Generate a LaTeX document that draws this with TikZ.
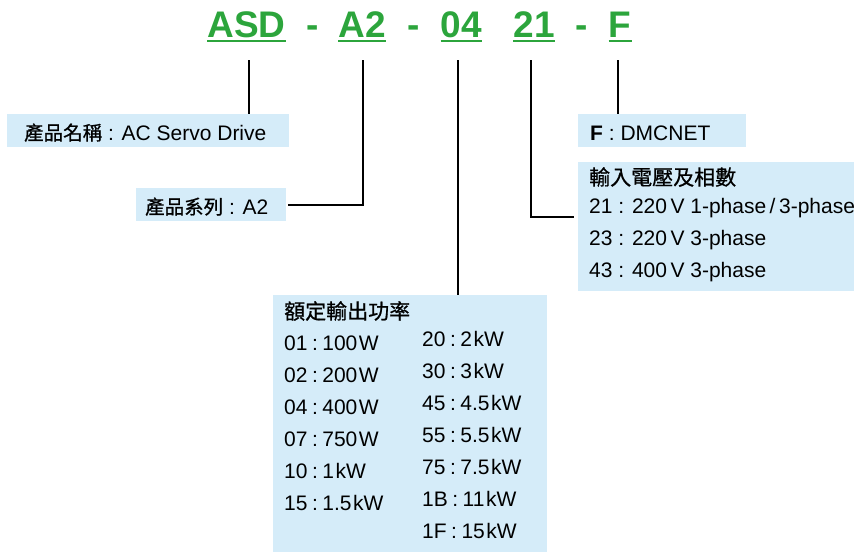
\documentclass[tikz,border=0pt]{standalone}
\usepackage{fontspec}
\setmainfont{Liberation Sans}
\newfontfamily\cjk[FakeBold=0.8]{Noto Sans CJK TC}
\newcommand\zh[1]{{\cjk\fontsize{19.5}{22}\selectfont #1}}
\newcommand\zhhead[1]{{\cjk\fontsize{21}{24}\selectfont #1}}
\newcommand\pcolon{\hspace{4.5pt}:\hspace{4.5pt}}
\definecolor{codegreen}{RGB}{44,165,60}
\definecolor{boxblue}{RGB}{213,236,249}
\begin{document}
\begin{tikzpicture}[x=1pt,y=-1pt]
        \tikzset{
          code/.style={anchor=base,inner sep=0pt,text=codegreen,font=\fontsize{37}{40}\selectfont\bfseries},
          uline/.style={draw=codegreen,line width=2pt},
          box/.style={anchor=north west,inner sep=0pt,fill=boxblue},
          txt/.style={anchor=base west,inner sep=0pt,font=\fontsize{21}{25}\selectfont},
          link/.style={line width=2pt}
        }
        \useasboundingbox (0,0) rectangle (854,552);
        % model code
        \node[code] (asd) at (246.5,37.7) {ASD};
        \node[code] (d1) at (313,37.7) {-};
        \node[code] (ser) at (362,37.7) {A2};
        \node[code] (d2) at (414,37.7) {-};
        \node[code] (pow) at (461.5,37.7) {04};
        \node[code] (volt) at (534,37.7) {21};
        \node[code] (d3) at (582,37.7) {-};
        \node[code] (net) at (620,37.7) {F};
        \foreach \n in {asd,ser,pow,volt,net}
          \draw[uline] ([yshift=-3.5pt]\n.base west) -- ([yshift=-3.5pt]\n.base east);
        % boxes
        \node[box,minimum width=282,minimum height=33] (namebox) at (7,114) {};
        \node[box,minimum width=150,minimum height=33] (serbox) at (136,188) {};
        \node[box,minimum width=168,minimum height=33] (netbox) at (578,114) {};
        \node[box,minimum width=276,minimum height=129] (voltbox) at (578,162) {};
        \node[box,minimum width=274,minimum height=257] (powbox) at (273,295) {};
        % connectors
        \coordinate (asd-d) at (249,60);
        \coordinate (ser-d) at (363,60);
        \coordinate (pow-d) at (458,60);
        \coordinate (volt-d) at (531,60);
        \coordinate (net-d) at (618,60);
        \draw[link] (asd-d) -- (asd-d |- namebox.north);
        \draw[link,shorten >=2pt] (ser-d) |- (serbox.east);
        \draw[link] (pow-d) -- (pow-d |- powbox.north);
        \draw[link,shorten >=4pt] (volt-d) |- ([yshift=9.5pt]voltbox.west);
        \draw[link] (net-d) -- (net-d |- netbox.north);
        % texts
        \node[txt] (nametxt) at (24,140) {\zh{產品名稱} : AC Servo Drive};
        \node[txt] (sertxt) at (145,214) {\zh{產品系列} : A2};
        \node[txt] (nettxt) at (590,140) {\textbf{F} : DMCNET};
        \node[txt] (volthead) at (589,185) {\zhhead{輸入電壓及相數}};
        \node[txt] (v1) at (589,213) {21 : 220\,V 1-phase\,/\,3-phase};
        \node[txt] (v2) at (589,245) {23 : 220\,V 3-phase};
        \node[txt] (v3) at (589,277) {43 : 400\,V 3-phase};
        \node[txt] (powhead) at (284,319) {\zhhead{額定輸出功率}};
        \foreach \t [count=\i] in {01\pcolon100\hspace{1.5pt}W, 02\pcolon200\hspace{1.5pt}W, 04\pcolon400\hspace{1.5pt}W, 07\pcolon750\hspace{1.5pt}W, 10\pcolon1\hspace{1.5pt}kW, 15\pcolon1.5\hspace{1.5pt}kW}
          \node[txt] (pl\i) at (284,318+32*\i) {\t};
        \foreach \t [count=\i] in {20\pcolon2\hspace{1.5pt}kW, 30\pcolon3\hspace{1.5pt}kW, 45\pcolon4.5\hspace{1.5pt}kW, 55\pcolon5.5\hspace{1.5pt}kW, 75\pcolon7.5\hspace{1.5pt}kW, 1B\pcolon11\hspace{1.5pt}kW, 1F\pcolon15\hspace{1.5pt}kW}
          \node[txt] (pr\i) at (422,314+32*\i) {\t};
    \end{tikzpicture}
\end{document}
